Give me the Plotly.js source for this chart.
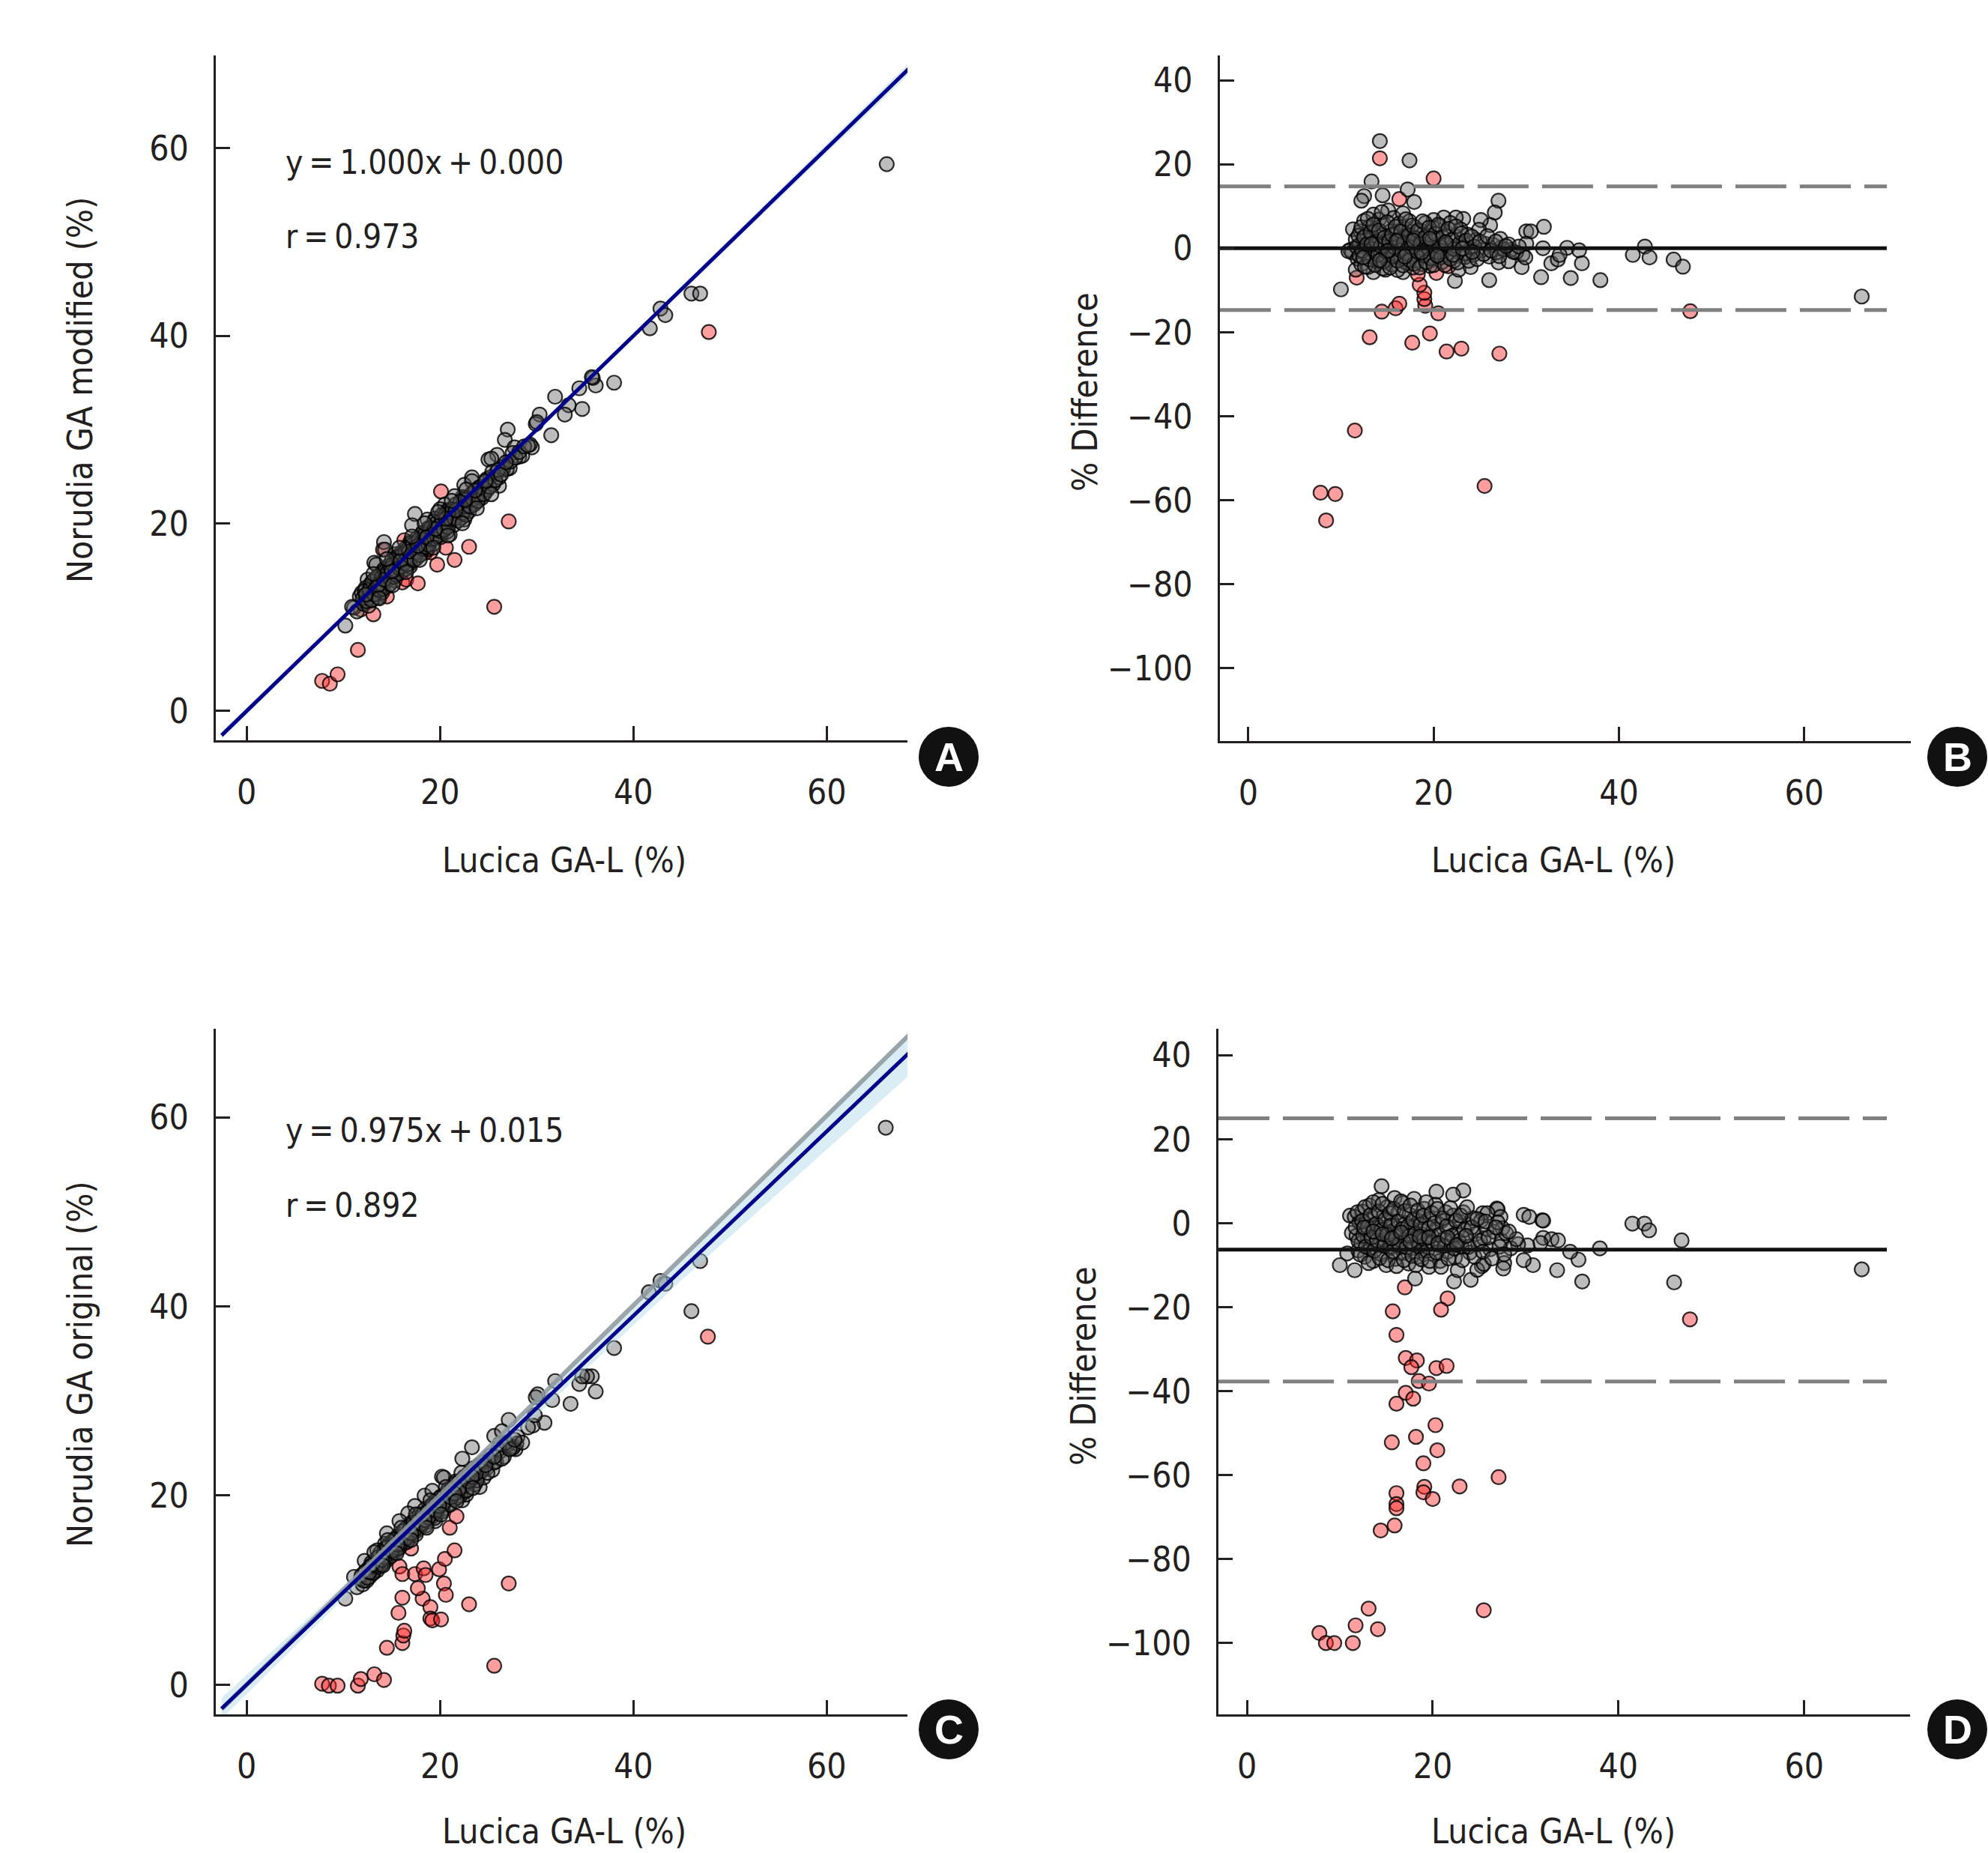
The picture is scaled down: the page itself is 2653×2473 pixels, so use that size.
<!DOCTYPE html>
<html>
<head>
<meta charset="utf-8">
<script src="https://cdn.plot.ly/plotly-3.0.1.min.js"></script>
<style>
body{margin:0;background:#fff;}
.main-svg text{font-stretch:condensed;}
</style>
</head>
<body>
<div id="chart" style="width:2653px;height:2473px;"></div>
<script>
'use strict'

// ---- data ----
var tickX = [0, 20, 40, 60];
var tickScatterY = [0, 20, 40, 60];
var tickDiffY = [-100, -80, -60, -40, -20, 0, 20, 40];

// A: Lucica GA-L vs Norudia GA modified
var aGray = [
  [66.2,58.3],[46.0,44.5],[46.9,44.5],[42.8,42.9],[43.3,42.2],[41.7,40.8],[38.0,35.0],[36.1,34.7],[35.8,35.5],[34.4,34.4],
  [34.7,32.2],[33.3,32.6],[32.9,31.6],[31.9,33.5],[31.5,29.4],[30.3,31.6],[29.9,30.6],[29.5,28.1],[27.0,30.0],[26.7,28.9],
  [26.1,24.0],[17.4,21.0],[14.2,18.0],[10.2,9.1],[11.1,11.0],[35.7,35.6],[30.0,30.8],[29.3,28.4],[27.7,28.1],[28.2,27.1],
  [25.9,27.3],[25.0,26.8],[27.2,25.9],[23.3,24.9],[22.5,24.1],[24.3,23.3],[23.8,22.3],[22.3,22.8],[21.5,22.9],[22.8,21.5],
  [22.5,20.4],[20.5,22.0],[20.0,21.5],[17.1,19.8],[18.7,20.4],[19.2,19.6],[20.0,18.8],[21.0,18.8],[18.1,18.8],[16.9,18.0],
  [17.9,17.2],[18.9,17.8],[14.3,17.2],[15.3,16.7],[16.3,16.4],[15.6,15.6],[16.9,15.4],[13.2,15.8],[14.0,14.8],[12.5,14.0],
  [15.0,14.6],[13.0,13.2],[13.8,12.7],[11.7,12.2],[12.2,11.6],[10.9,11.1],[11.4,10.6],[12.4,12.2],[13.4,15.6],[15.6,15.3],
  [16.9,16.2],[18.2,19.0],[19.5,20.5],[20.8,21.4],[22.4,22.0],[23.3,24.5],[24.6,23.2],[25.3,26.9],[26.5,25.7],[27.5,27.5],
  [28.5,27.2],
  [11.9,12.6],[12.1,11.4],[12.3,13.1],[12.5,12.0],[12.6,11.2],[12.8,13.5],[12.9,12.4],[13.1,11.9],[13.2,14.0],[13.4,12.8],
  [13.5,13.6],[13.6,12.1],[13.8,14.5],[13.9,13.2],[14.0,12.6],[14.2,15.1],[14.3,13.8],[14.4,14.6],[14.6,13.3],[14.7,15.5],
  [14.8,14.2],[15.0,16.0],[15.1,14.6],[15.2,15.4],[15.3,13.9],[15.5,16.4],[15.6,15.0],[15.7,15.8],[15.9,14.7],[16.0,16.9],
  [16.1,15.6],[16.2,16.3],[16.4,15.1],[16.5,17.4],[16.6,16.1],[16.8,16.8],[16.9,15.7],[17.0,17.9],[17.2,16.6],[17.3,17.3],
  [17.5,16.2],[17.6,18.4],[17.7,17.1],[17.9,17.8],[18.0,16.7],[18.2,19.0],[18.3,17.6],[18.5,18.3],[18.6,17.2],[18.8,19.5],
  [18.9,18.1],[19.1,18.8],[19.3,17.8],[19.4,20.2],[19.6,18.9],[19.8,19.6],[20.0,18.5],[20.2,20.9],[20.3,19.5],[20.5,20.3],
  [20.7,19.1],[20.9,21.4],[21.0,20.1],[21.2,20.8],[21.4,19.8],[21.6,22.0],[21.8,20.7],[22.0,21.5],[22.2,20.6],[22.4,22.6],
  [22.6,21.4],[22.8,22.1],[23.0,21.3],[23.3,23.2],[23.5,22.0],[23.8,22.9],[24.0,23.8],[24.3,22.7],[24.6,24.3],[24.9,23.6],
  [25.2,24.9],[25.5,24.2],[25.8,25.4],[26.1,24.9],[26.5,26.0],[26.9,25.8],[27.3,26.6],[27.8,27.0],[28.2,27.6],[28.7,28.2],
  [29.1,28.3],
  [12.0,12.0],[12.2,12.8],[12.4,11.7],[12.7,12.9],[12.9,11.8],[13.0,13.8],[13.2,12.4],[13.3,13.0],[13.5,14.3],[13.7,12.9],
  [13.8,13.6],[14.0,14.3],[14.1,13.0],[14.3,14.9],[14.5,13.9],[14.6,14.8],[14.8,13.5],[14.9,15.2],[15.1,15.6],[15.2,14.3],
  [15.4,15.0],[15.5,14.5],[15.7,16.4],[15.8,15.2],[16.0,15.4],[16.1,16.7],[16.3,15.8],[16.4,16.9],[16.6,15.6],[16.7,17.3],
  [16.9,16.5],[17.0,16.3],[17.2,17.8],[17.3,16.1],[17.5,17.4],[17.6,16.9],[17.8,18.3],[17.9,16.6],[18.1,17.9],[18.2,17.3],
  [18.4,18.8],[18.5,17.5],[18.7,18.6],[18.8,17.7],[19.0,19.5],[19.1,18.3],[19.3,19.2],[19.4,18.4],[19.6,20.0],[19.7,18.6],
  [19.9,19.7],[20.0,19.2],[20.2,20.4],[20.4,19.3],[20.5,20.9],[20.7,20.0],[20.8,19.6],[21.0,21.2],[21.1,20.4],[21.3,21.5],
  [21.5,20.5],[21.7,21.3],[21.9,20.3],[22.1,22.3],[22.3,21.1],[22.5,21.8],[22.7,20.9],[22.9,22.7],[23.1,21.8],[23.4,22.6],
  [23.7,23.5],[23.9,22.4],[24.2,23.9],[24.5,23.1],[24.8,24.7],[25.1,23.9],[25.4,25.5],[25.7,24.6],[26.0,25.7],[26.3,25.2],
  [12.3,12.4],[13.6,13.4],[14.2,14.0],[15.0,14.9],[15.9,16.0],[16.8,17.0],[17.7,17.6],[18.6,18.5],[19.5,19.4],[20.6,20.5],
  [21.6,21.4],[22.6,22.5],[23.6,23.5],[24.7,24.5],[26.8,26.5],
  [13.1,14.6],[14.5,16.2],[15.8,17.4],[17.1,18.6],[18.4,20.0],[19.8,21.2],[21.2,22.4],[22.7,23.6],
  [13.7,12.0],[15.1,13.4],[16.5,14.8],[17.9,16.1],[19.3,17.4],[20.8,18.7],[22.3,20.0],[23.8,21.6],[25.3,23.1]
];
var aRed = [
  [7.8,3.2],[8.6,2.9],[9.4,3.9],[11.5,6.5],[13.1,10.3],[14.5,12.2],[16.1,13.7],[16.5,14.0],[17.7,13.6],[20.1,23.4],
  [19.7,15.6],[20.6,17.4],[21.5,16.1],[23.0,17.5],[27.1,20.2],[25.6,11.1],[47.8,40.4],[19.0,16.9],[18.7,17.2],[14.1,17.2],
  [16.3,18.2],[18.5,16.9],[18.3,17.2],[20.3,19.1],[21.6,20.7],[11.8,10.8]
];

// B: % difference, modified
var bGray = [
  [14.2,25.5],[17.4,20.9],[13.3,15.9],[17.2,14.0],[12.5,12.4],[12.2,11.3],[14.5,12.6],[17.9,11.0],[27.0,11.3],[26.6,8.5],
  [31.9,5.1],[30.0,4.0],[30.5,4.0],[34.4,0.1],[35.7,-0.5],[42.8,0.4],[41.5,-1.6],[43.3,-2.2],[45.9,-2.7],[46.9,-4.4],
  [66.2,-11.5],[10.0,-9.8],[22.3,-7.8],[26.0,-7.6],[31.6,-6.9],[34.8,-7.1],[38.0,-7.6],[29.5,-4.5],[32.7,-3.6],[33.4,-2.7],
  [36.0,-3.6],[31.8,0.0],[29.6,-1.5],[11.0,-0.4],[11.3,4.5],[26.1,5.5],[25.1,6.7],[23.2,7.0],[22.4,7.3],[21.1,7.3],
  [20.0,6.7],[22.7,-5.1],[24.0,-4.5],[27.0,-3.4],[28.1,-3.1],[27.3,0.2],[28.3,-0.4],[28.9,-1.0],[11.2,-1.0],[11.6,-5.1],
  [13.5,-5.7],[14.8,-5.1],[16.7,-5.7],[30.0,1.1],[29.9,-2.2],[33.6,-1.6],[10.8,-0.7],
  [11.6,2.1],[11.8,-2.5],[12.0,0.8],[12.1,4.0],[12.2,-3.8],[12.4,1.9],[12.5,6.5],[12.6,-1.2],[12.8,3.3],[12.9,-4.5],
  [13.0,0.2],[13.1,5.2],[13.3,-2.0],[13.4,2.6],[13.5,8.0],[13.6,-0.8],[13.8,4.4],[13.9,-3.1],[14.0,1.3],[14.1,6.8],
  [14.3,-1.6],[14.4,3.0],[14.5,-4.8],[14.6,0.4],[14.7,5.6],[14.9,-2.6],[15.0,2.0],[15.1,9.0],[15.2,-0.3],[15.4,4.1],
  [15.5,-3.9],[15.6,1.1],[15.7,7.2],[15.9,-1.4],[16.0,3.4],[16.1,-5.2],[16.2,0.1],[16.3,5.9],[16.5,-2.2],[16.6,2.5],
  [16.7,8.3],[16.9,-0.7],[17.0,4.6],[17.1,-3.5],[17.2,1.5],[17.4,6.4],[17.5,-1.8],[17.6,3.1],[17.8,-4.6],[17.9,0.6],
  [18.0,5.0],[18.2,-2.9],[18.3,2.2],[18.5,-0.1],[18.6,4.2],[18.8,-3.8],[18.9,1.6],[19.1,6.0],[19.2,-1.1],[19.4,3.0],
  [19.6,-4.2],[19.7,0.8],[19.9,4.9],[20.1,-2.3],[20.3,2.0],[20.5,-0.4],[20.7,5.3],[20.9,-3.3],[21.1,1.2],[21.3,3.9],
  [21.5,-1.5],[21.8,6.0],[22.0,0.3],[22.2,-3.0],[22.4,2.8],[22.7,-0.9],[22.9,4.5],[23.2,1.4],[23.4,-2.1],[23.7,3.2],
  [24.0,0.0],[24.3,-1.6],[24.6,2.0],[24.9,4.4],[25.2,-0.5],[25.6,1.0],[26.0,-2.0],[26.4,0.8],[26.8,-1.0],[27.2,2.2],
  [27.6,-0.3],[28.1,0.9],[28.6,-0.9],[29.2,0.4],
  [11.7,0.3],[11.9,3.0],[12.0,-1.8],[12.2,5.0],[12.3,-0.6],[12.5,2.6],[12.6,-4.4],[12.8,0.9],[12.9,7.0],[13.1,-2.7],
  [13.2,3.7],[13.4,-0.2],[13.5,5.6],[13.7,-4.0],[13.8,1.6],[14.0,-1.5],[14.1,4.2],[14.3,0.5],[14.4,8.6],[14.6,-3.2],
  [14.7,2.5],[14.9,-0.9],[15.0,6.2],[15.2,1.6],[15.3,-4.6],[15.5,3.2],[15.6,-1.9],[15.8,0.2],[15.9,5.1],[16.1,-3.0],
  [16.2,2.0],[16.4,-0.5],[16.5,4.0],[16.7,-4.1],[16.8,1.2],[17.0,6.9],[17.1,-1.3],[17.3,3.0],[17.4,-2.8],[17.6,0.2],
  [17.7,5.4],[17.9,-3.7],[18.0,2.4],[18.2,-0.8],[18.3,4.2],[18.5,-4.6],[18.6,1.0],[18.8,6.4],[18.9,-1.7],[19.1,2.6],
  [19.2,-3.3],[19.4,0.0],[19.5,4.9],[19.7,-2.4],[19.8,1.8],[20.0,-4.0],[20.2,3.4],[20.3,-0.9],[20.5,5.6],[20.6,0.4],
  [20.8,-2.2],[21.0,2.6],[21.2,-4.0],[21.4,0.9],[21.6,4.6],[21.8,-2.5],[22.0,2.0],[22.2,-0.2],[22.4,5.2],[22.6,-3.4],
  [22.8,1.1],[23.0,3.5],[23.3,-1.2],[23.5,1.8],[23.8,-3.0],[24.1,2.8],[24.4,0.4],[24.7,-2.6],[25.0,1.6],[25.4,-1.4],
  [25.8,2.9],[26.2,-0.6],[26.7,1.6],[27.1,-1.9],[27.8,0.5],[12.4,-2.2],[13.3,1.0],[14.2,-2.9],[15.1,-0.6],[16.0,1.7],
  [16.9,-2.0],[17.8,1.8],[18.7,-1.0],[19.6,2.3],[20.4,-1.8],[21.3,1.4],[22.1,-1.6],[23.1,-0.1],[24.2,-0.9]
];
var bRed = [
  [14.2,21.4],[20.0,16.6],[16.3,11.7],[13.1,-21.2],[17.7,-22.5],[19.6,-20.3],[21.4,-24.6],[23.0,-23.9],[27.1,-25.1],[14.4,-15.1],
  [15.9,-14.3],[16.3,-13.2],[20.5,-15.5],[19.1,-13.7],[19.0,-12.1],[19.0,-10.6],[18.5,-8.7],[18.3,-6.2],[47.7,-15.0],[11.5,-43.4],
  [7.8,-58.2],[9.4,-58.5],[8.4,-64.8],[25.5,-56.6],[11.7,-7.0],[20.3,-5.9],[21.6,-4.3]
];
var bMean = 0;
var bUpper = 14.7;
var bLower = -14.7;

// C: Lucica GA-L vs Norudia GA original
var cGray = [
  [66.1,58.9],[46.9,44.8],[46.0,39.5],[42.8,42.7],[43.3,42.4],[41.6,41.5],[38.0,35.6],[36.1,31.0],[35.7,32.6],[35.2,32.6],
  [34.4,31.8],[33.5,29.7],[31.9,32.1],[31.6,30.1],[30.1,30.7],[29.9,30.4],[30.8,27.7],[29.6,27.4],[27.1,28.0],[27.8,24.9],
  [27.6,25.2],[26.2,25.5],[24.1,20.9],[23.3,25.1],[20.2,22.0],[10.2,9.1],[11.4,10.3],[11.1,11.4],[34.7,32.6],[29.1,27.2],
  [29.8,28.5],[25.6,26.3],[26.4,26.8],[27.9,25.5],[22.3,23.9],[20.4,21.9],[23.3,21.8],[22.3,19.5],[22.7,20.1],[21.3,20.5],
  [21.6,21.5],[18.4,20.0],[19.2,20.5],[17.4,18.9],[16.7,18.1],[18.1,17.0],[19.5,17.3],[15.8,17.3],[14.5,16.0],[14.3,14.9],
  [15.6,14.4],[13.5,14.2],[12.2,13.1],
  [11.8,11.2],[12.0,10.6],[12.2,11.9],[12.4,11.0],[12.6,12.3],[12.7,11.4],[12.9,12.9],[13.1,11.8],[13.2,12.5],[13.4,13.3],
  [13.5,12.1],[13.7,13.0],[13.8,13.9],[14.0,12.7],[14.1,13.5],[14.3,14.4],[14.4,13.1],[14.6,13.9],[14.7,14.8],[14.9,13.6],
  [15.0,14.4],[15.2,15.3],[15.3,14.0],[15.5,14.9],[15.6,15.7],[15.8,14.5],[15.9,15.3],[16.1,16.2],[16.2,14.9],[16.4,15.8],
  [16.5,16.6],[16.7,15.4],[16.8,16.2],[17.0,17.1],[17.1,15.8],[17.3,16.7],[17.5,17.6],[17.6,16.3],[17.8,17.1],[17.9,18.0],
  [18.1,16.8],[18.3,17.6],[18.4,18.5],[18.6,17.2],[18.8,18.0],[19.0,18.9],[19.1,17.7],[19.3,18.5],[19.5,19.4],[19.7,18.2],
  [19.9,19.0],[20.1,19.9],[20.3,18.6],[20.5,19.5],[20.7,20.3],[20.9,19.1],[21.1,19.9],[21.3,20.8],[21.5,19.6],[21.7,20.4],
  [21.9,21.3],[22.1,20.0],[22.4,20.9],[22.6,21.9],[22.8,20.6],[23.1,21.5],[23.4,22.5],[23.6,21.2],[23.9,22.1],[24.2,23.1],
  [24.5,21.9],[24.8,22.9],[25.1,23.8],[25.4,22.7],[25.8,23.6],[26.2,24.7],[26.6,24.1],[27.0,25.4],[27.5,25.0],[28.0,26.2],
  [28.5,25.6],
  [11.9,11.6],[12.1,11.0],[12.3,12.0],[12.5,11.3],[12.8,12.5],[13.0,11.8],[13.3,12.9],[13.5,12.4],[13.6,13.5],[13.9,12.7],
  [14.2,13.9],[14.4,13.4],[14.5,14.5],[14.8,13.5],[15.1,14.7],[15.3,14.3],[15.4,15.4],[15.7,14.4],[16.0,15.6],[16.2,15.2],
  [16.3,16.3],[16.6,15.1],[16.9,16.5],[17.1,16.1],[17.2,17.1],[17.5,15.9],[17.7,17.3],[18.0,17.0],[18.2,18.0],[18.5,16.8],
  [18.7,18.3],[18.9,17.8],[19.2,19.0],[19.4,17.6],[19.6,19.1],[19.8,18.7],[20.0,19.8],[20.2,18.3],[20.4,20.0],[20.6,19.5],
  [20.8,20.6],[21.0,19.0],[21.2,20.7],[21.4,20.3],[21.6,21.3],[21.8,19.8],[22.0,21.5],[22.3,21.0],[22.5,22.0],[22.7,20.5],
  [23.0,22.4],[23.2,21.7],[23.5,22.9],[23.8,21.6],[24.0,23.2],[24.3,22.6],[24.6,23.6],[24.9,22.4],[25.2,24.2],[25.6,23.5],
  [26.0,24.9],[26.4,23.9],[26.8,25.6],[27.2,24.9],[27.7,25.9],[12.7,11.9],[13.4,12.6],[14.3,13.5],[15.0,14.1],[15.9,14.9],
  [16.5,15.5],[17.4,16.4],[18.1,17.0],[18.8,17.7],[19.6,18.4],[20.3,19.1],[21.1,19.8],[21.9,20.6],[22.9,21.5],[23.7,22.3],
  [24.7,23.2],[25.6,24.1],[13.0,12.7],[14.0,13.2],[15.6,14.8],[17.0,16.0],[18.4,17.4],[19.9,18.9],[21.5,20.2],[23.3,22.0],
  [13.2,14.0],[14.6,15.3],[16.0,16.6],[17.5,18.0],[19.0,19.5],[20.6,20.9],[22.2,22.4],
  [14.1,12.6],[15.5,13.9],[17.0,15.3],[18.6,16.6],[20.1,18.0],[21.7,19.4],[23.4,20.8]
];
var cRed = [
  [7.8,0.1],[8.5,-0.1],[9.4,-0.1],[11.5,-0.1],[11.8,0.6],[13.2,1.1],[14.2,0.5],[14.5,3.9],[16.1,4.4],[16.2,5.2],
  [16.3,5.7],[15.7,7.6],[16.1,9.2],[18.2,9.1],[19.0,8.2],[19.0,7.0],[19.2,6.8],[20.1,6.9],[20.4,10.7],[20.6,9.5],
  [23.0,8.5],[15.8,12.5],[16.1,11.7],[17.4,11.7],[17.7,10.2],[18.3,12.3],[18.5,11.6],[19.9,12.2],[20.5,13.3],[21.5,14.2],
  [17.0,14.4],[21.0,16.6],[21.7,17.8],[27.1,10.7],[25.6,2.0],[47.7,36.8]
];

// D: % difference, original
var dGray = [
  [66.2,-11.0],[46.8,-4.1],[46.0,-14.1],[41.5,-0.1],[42.8,-0.1],[43.3,-1.7],[38.0,-6.0],[36.1,-13.9],[35.7,-8.7],[34.8,-6.8],
  [33.4,-11.2],[31.8,0.7],[29.8,2.0],[30.4,1.5],[30.8,-10.0],[29.8,-8.8],[27.7,-9.5],[27.6,-10.8],[25.3,-10.2],[24.1,-13.5],
  [22.3,-13.9],[26.9,3.5],[23.3,7.8],[22.2,6.8],[20.4,7.5],[14.5,8.8],[10.0,-10.0],[11.6,-11.2],[10.8,-7.2],[11.1,1.8],
  [11.3,-2.3],[18.1,-13.2],[22.7,-11.2],[24.8,-11.1],[25.5,-9.7],[31.9,-3.5],[32.8,-3.8],[33.5,-4.1],[31.6,-4.7],[30.2,-5.3],
  [29.2,-5.0],[31.9,0.6],[27.0,3.3],[27.3,1.5],[25.4,2.4],[25.9,2.4],[27.5,-1.2],
  [11.6,1.5],[11.8,-3.0],[12.0,-6.5],[12.1,0.2],[12.3,-4.8],[12.4,2.8],[12.6,-1.5],[12.7,-8.0],[12.9,0.9],[13.0,-3.6],
  [13.2,4.2],[13.3,-6.1],[13.5,-0.6],[13.6,-9.0],[13.8,2.1],[13.9,-2.4],[14.1,-5.3],[14.2,5.5],[14.4,-1.0],[14.5,-7.4],
  [14.7,1.6],[14.8,-3.9],[15.0,-10.0],[15.1,3.8],[15.3,-2.0],[15.4,-6.0],[15.6,0.5],[15.7,-4.4],[15.9,6.0],[16.0,-8.5],
  [16.2,-1.2],[16.3,2.6],[16.5,-5.4],[16.6,-2.8],[16.8,4.8],[16.9,-7.1],[17.1,0.0],[17.2,-3.6],[17.4,-9.6],[17.5,2.0],
  [17.7,-1.8],[17.8,-5.9],[18.0,5.8],[18.1,-0.6],[18.3,-4.2],[18.4,-8.0],[18.6,1.4],[18.8,-2.6],[18.9,-6.6],[19.1,3.4],
  [19.2,-0.2],[19.4,-4.8],[19.6,-10.4],[19.7,1.0],[19.9,-3.0],[20.1,-7.4],[20.3,4.4],[20.4,-1.4],[20.6,-5.2],[20.8,-9.0],
  [21.0,0.6],[21.2,-3.8],[21.4,2.6],[21.6,-6.8],[21.8,-1.0],[22.0,-4.4],[22.2,1.8],[22.4,-8.2],[22.6,-2.2],[22.9,0.4],
  [23.1,-5.6],[23.3,2.6],[23.5,-3.2],[23.8,-0.4],[24.0,-7.0],[24.3,1.2],[24.6,-2.6],[24.9,-5.0],[25.2,0.6],[25.5,-3.6],
  [25.8,-1.4],[26.2,-6.2],[26.6,-2.0],[27.0,0.2],[27.4,-4.2],[27.9,-2.4],[28.4,-6.0],[29.0,-3.8],
  [11.7,-1.0],[11.9,2.6],[12.0,-4.2],[12.2,-7.5],[12.4,0.5],[12.5,-2.9],[12.7,3.8],[12.8,-5.6],[13.0,-0.9],[13.1,-9.5],
  [13.3,1.9],[13.4,-3.4],[13.6,5.0],[13.7,-6.6],[13.9,-0.2],[14.0,-4.1],[14.2,2.8],[14.3,-8.3],[14.5,-1.6],[14.6,4.6],
  [14.8,-5.4],[14.9,0.9],[15.1,-2.8],[15.2,-8.8],[15.4,2.4],[15.5,-0.6],[15.7,-6.7],[15.8,3.4],[16.0,-3.2],[16.1,-10.2],
  [16.3,0.4],[16.4,-5.0],[16.6,5.2],[16.7,-1.4],[16.9,-8.8],[17.0,2.9],[17.2,-5.8],[17.3,-0.8],[17.5,-3.0],[17.6,4.2],
  [17.8,-7.8],[17.9,0.8],[18.1,-2.6],[18.2,-10.0],[18.4,3.0],[18.5,-5.6],[18.7,-0.4],[18.8,-8.6],[19.0,1.8],[19.1,-3.8],
  [19.3,5.0],[19.4,-6.6],[19.6,-1.2],[19.7,-9.0],[19.9,2.4],[20.0,-4.6],[20.2,0.0],[20.4,-7.0],[20.5,3.4],[20.7,-2.8],
  [20.9,-10.4],[21.1,1.2],[21.3,-5.4],[21.5,-0.8],[21.7,-8.4],[21.9,3.6],[22.1,-3.0],[22.3,-6.0],[22.5,0.6],[22.8,-4.2],
  [23.0,1.8],[23.2,-8.8],[23.4,-1.6],[23.7,3.8],[23.9,-5.6],[24.2,-1.0],[24.5,-8.0],[24.8,1.0],[25.1,-4.2],[25.4,-6.8],
  [25.7,0.4],[26.0,-3.4],[26.4,-8.4],[26.8,-1.0],[27.2,-5.6],[27.7,-7.4],[28.2,-2.0],[12.6,-1.0],[13.6,-2.0],[14.6,-2.6],
  [15.6,-3.6],[16.6,-2.2],[17.6,-4.4],[18.6,-3.2],[19.6,-3.4],[20.6,-4.8],[21.6,-3.4],[22.6,-5.2],[23.6,-3.0]
];
var dRed = [
  [17.0,-15.3],[21.6,-17.9],[20.9,-20.6],[15.7,-21.0],[16.1,-26.6],[17.1,-32.1],[18.3,-32.7],[17.7,-34.3],[20.4,-34.5],[21.5,-34.0],
  [18.5,-37.6],[19.6,-38.2],[17.1,-40.4],[17.9,-41.8],[16.1,-43.0],[20.3,-48.1],[18.2,-50.9],[15.6,-52.2],[20.5,-54.1],[19.0,-57.2],
  [22.9,-62.7],[27.1,-60.5],[19.1,-62.8],[19.0,-64.1],[20.0,-65.7],[16.1,-64.3],[16.1,-66.9],[16.1,-67.9],[15.9,-72.0],[14.4,-73.2],
  [13.1,-91.8],[11.7,-95.8],[14.1,-96.7],[7.8,-97.6],[8.5,-100.0],[9.4,-100.0],[11.4,-100.0],[25.5,-92.2],[47.7,-22.9]
];
var dMean = -6.3;
var dUpper = 25.0;
var dLower = -37.7;

// fitted lines and confidence bands
var regX = [-2.6, 68.7];
var aRegY = [-2.6, 68.7];
var cRegY = [-2.52, 67.0];
var identY = [-2.6, 68.9];
var bandX = [-2.6, 10, 20, 30, 45, 68.7];
var aBandLo = [-3.0, 9.8, 19.85, 29.8, 44.7, 68.1];
var aBandHi = [-2.2, 10.2, 20.15, 30.2, 45.3, 69.3];
var cBandLo = [-3.6, 9.1, 18.9, 28.5, 42.8, 64.6];
var cBandHi = [-1.4, 10.5, 20.1, 30.0, 45.0, 69.2];
var loaX = [-3.07, 68.9];

// ---- styling ----
var FONT = '"DejaVu Sans Condensed", "DejaVu Sans", sans-serif';
var INK = '#231f20';
var GRAY_FILL = 'rgba(90,90,90,0.4)';
var RED_FILL = 'rgba(255,40,40,0.45)';
var THIN = '\u2009';

function col(points, i){
    return points.map(function(p){ return p[i]; });
}

function dots(points, fill, xa, ya){
    return {
        x: col(points, 0),
        y: col(points, 1),
        xaxis: xa, yaxis: ya,
        type: 'scatter',
        mode: 'markers',
        marker: { size: 19, color: fill, line: { color: 'rgba(0,0,0,0.82)', width: 2.2 } },
        hoverinfo: 'skip',
        showlegend: false
    };
}

function line(xs, ys, color, width, dash, xa, ya){
    return {
        x: xs, y: ys,
        xaxis: xa, yaxis: ya,
        type: 'scatter',
        mode: 'lines',
        line: { color: color, width: width, dash: dash || 'solid' },
        hoverinfo: 'skip',
        showlegend: false
    };
}

function band(xs, lo, hi, xa, ya){
    var top = {
        x: xs, y: hi, xaxis: xa, yaxis: ya, type: 'scatter', mode: 'lines',
        line: { width: 0 }, hoverinfo: 'skip', showlegend: false
    };
    var bottom = {
        x: xs, y: lo, xaxis: xa, yaxis: ya, type: 'scatter', mode: 'lines',
        line: { width: 0 }, fill: 'tonexty', fillcolor: 'rgba(173,216,230,0.45)',
        hoverinfo: 'skip', showlegend: false
    };
    return [top, bottom];
}

function flat(v){
    return [v, v];
}

function xAxis(domain, range, anchor){
    return {
        domain: domain, range: range, anchor: anchor,
        tickvals: tickX, ticks: 'inside', ticklen: 19, tickwidth: 3, tickcolor: INK,
        showline: true, linecolor: INK, linewidth: 3, showgrid: false, zeroline: false,
        ticklabelstandoff: 27,
        tickfont: { family: FONT, size: 46, color: INK },
        automargin: false
    };
}

function yAxis(domain, range, anchor, vals){
    return {
        domain: domain, range: range, anchor: anchor,
        tickvals: vals, ticks: 'inside', ticklen: 19, tickwidth: 3, tickcolor: INK,
        showline: true, linecolor: INK, linewidth: 3, showgrid: false, zeroline: false,
        ticklabelstandoff: 24,
        tickfont: { family: FONT, size: 46, color: INK },
        automargin: false
    };
}

// axis titles placed by pixel position on the page
function axisTitle(text, px, py, angle){
    return { xref: 'paper', yref: 'paper', x: px / 2653, y: 1 - py / 2473, text: text, showarrow: false,
             xanchor: 'center', yanchor: 'middle', textangle: angle || 0,
             font: { family: FONT, size: 46, color: INK } };
}

function panelLetter(letter, cx, cy){
    var rx = 40 / 2653, ry = 40 / 2473;
    var px = cx / 2653, py = 1 - cy / 2473;
    return {
        shape: { type: 'circle', xref: 'paper', yref: 'paper', x0: px - rx, x1: px + rx, y0: py - ry, y1: py + ry,
                 fillcolor: '#111111', line: { width: 0 } },
        note: { xref: 'paper', yref: 'paper', x: px, y: py, text: '<b>' + letter + '</b>', showarrow: false,
                xanchor: 'center', yanchor: 'middle',
                font: { family: '"Liberation Sans", Arial, sans-serif', size: 54, color: '#ffffff' } }
    };
}

function stat(text, xa, ya, y){
    return { xref: xa, yref: ya, x: 3.86, y: y, text: text, showarrow: false, xanchor: 'left', yanchor: 'middle',
             font: { family: FONT, size: 44, color: INK } };
}

function initChart(){
    var data = [];
    // A
    data.push(dots(aRed, RED_FILL, 'x', 'y'));
    data.push(dots(aGray, GRAY_FILL, 'x', 'y'));
    data = data.concat(band(bandX, aBandLo, aBandHi, 'x', 'y'));
    data.push(line(regX, aRegY, '#00008b', 5, null, 'x', 'y'));
    // B
    data.push(dots(bRed, RED_FILL, 'x2', 'y2'));
    data.push(dots(bGray, GRAY_FILL, 'x2', 'y2'));
    data.push(line(loaX, flat(bUpper), '#808080', 5, '68px,18px', 'x2', 'y2'));
    data.push(line(loaX, flat(bLower), '#808080', 5, '68px,18px', 'x2', 'y2'));
    data.push(line(loaX, flat(bMean), '#111111', 5, null, 'x2', 'y2'));
    // C
    data.push(dots(cRed, RED_FILL, 'x3', 'y3'));
    data.push(dots(cGray, GRAY_FILL, 'x3', 'y3'));
    data = data.concat(band(bandX, cBandLo, cBandHi, 'x3', 'y3'));
    data.push(line(regX, identY, 'rgba(140,150,158,0.85)', 6, null, 'x3', 'y3'));
    data.push(line(regX, cRegY, '#00008b', 5, null, 'x3', 'y3'));
    // D
    data.push(dots(dRed, RED_FILL, 'x4', 'y4'));
    data.push(dots(dGray, GRAY_FILL, 'x4', 'y4'));
    data.push(line(loaX, flat(dUpper), '#808080', 5, '68px,18px', 'x4', 'y4'));
    data.push(line(loaX, flat(dLower), '#808080', 5, '68px,18px', 'x4', 'y4'));
    data.push(line(loaX, flat(dMean), '#111111', 5, null, 'x4', 'y4'));

    var letters = [
        panelLetter('A', 1266, 1010),
        panelLetter('B', 2612, 1010),
        panelLetter('C', 1266, 2308),
        panelLetter('D', 2612, 2308)
    ];

    var notes = [
        stat('y' + THIN + '=' + THIN + '1.000x' + THIN + '+' + THIN + '0.000', 'x', 'y', 58.5),
        stat('r' + THIN + '=' + THIN + '0.973', 'x', 'y', 50.6),
        stat('y' + THIN + '=' + THIN + '0.975x' + THIN + '+' + THIN + '0.015', 'x3', 'y3', 58.6),
        stat('r' + THIN + '=' + THIN + '0.892', 'x3', 'y3', 50.7),
        axisTitle('Lucica GA-L (%)', 753, 1148),
        axisTitle('Lucica GA-L (%)', 2073, 1148),
        axisTitle('Lucica GA-L (%)', 753, 2444),
        axisTitle('Lucica GA-L (%)', 2073, 2444),
        axisTitle('Norudia GA modified (%)', 107, 521, -90),
        axisTitle('% Difference', 1448, 523, -90),
        axisTitle('Norudia GA original (%)', 107, 1821, -90),
        axisTitle('% Difference', 1446, 1823, -90)
    ];

    var layout = {
        width: 2653,
        height: 2473,
        margin: { l: 0, r: 0, t: 0, b: 0, pad: 0 },
        paper_bgcolor: '#ffffff',
        plot_bgcolor: '#ffffff',
        showlegend: false,
        font: { family: FONT, color: INK },
        xaxis: xAxis([0.1086, 0.4565], [-3.19, 68.35], 'y'),
        yaxis: yAxis([0.6005, 0.9701], [-3.13, 69.9], 'x', tickScatterY),
        xaxis2: xAxis([0.6136, 0.9612], [-3.07, 71.5], 'y2'),
        yaxis2: yAxis([0.6001, 0.9701], [-117.3, 45.9], 'x2', tickDiffY),
        xaxis3: xAxis([0.1086, 0.4565], [-3.19, 68.35], 'y3'),
        yaxis3: yAxis([0.0748, 0.4450], [-3.14, 69.4], 'x3', tickScatterY),
        xaxis4: xAxis([0.6129, 0.9608], [-3.07, 71.4], 'y4'),
        yaxis4: yAxis([0.0748, 0.4450], [-117.0, 46.4], 'x4', tickDiffY),
        shapes: letters.map(function(l){ return l.shape; }),
        annotations: notes.concat(letters.map(function(l){ return l.note; }))
    };

    Plotly.newPlot('chart', data, layout, { displayModeBar: false, staticPlot: true });
}

initChart();
</script>
</body>
</html>
